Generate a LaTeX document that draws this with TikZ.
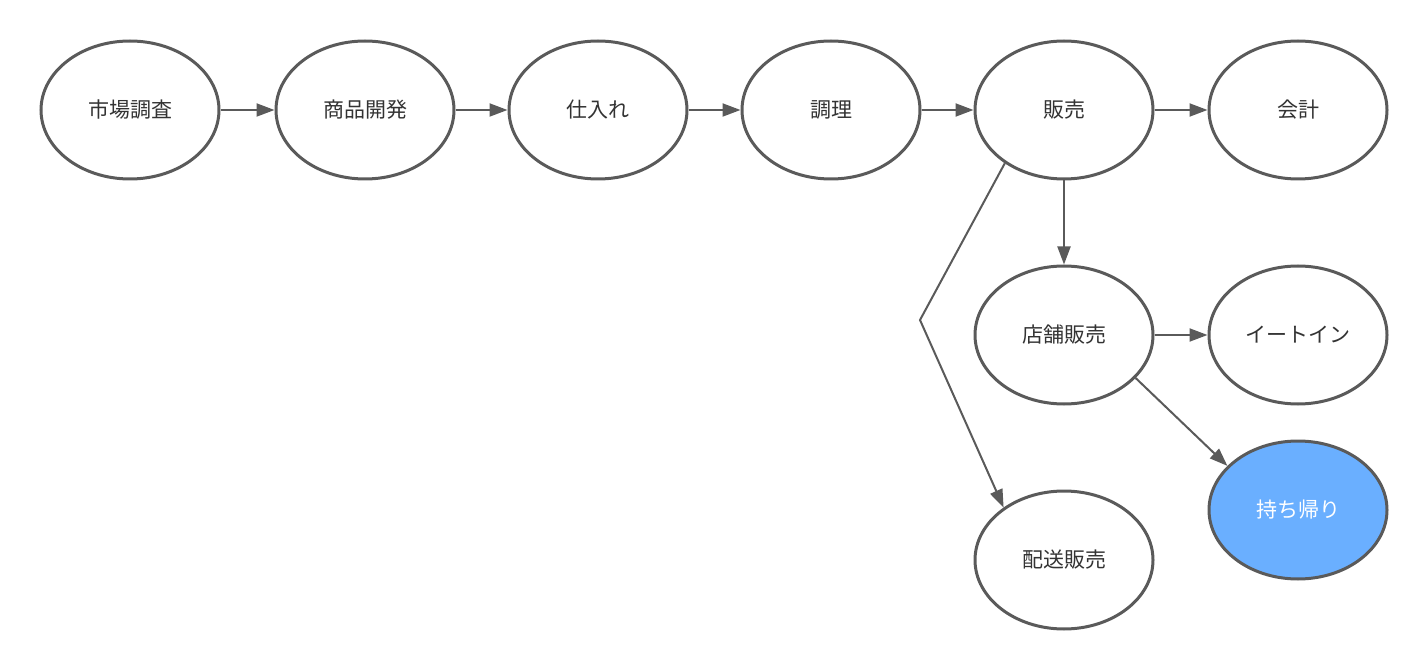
\documentclass[tikz,border=0pt]{standalone}
\usepackage{fontspec}
\setmainfont{Noto Sans CJK JP}
\usetikzlibrary{shapes.geometric,arrows.meta}
\definecolor{edgegray}{HTML}{5A5A5A}
\definecolor{textgray}{HTML}{333333}
\definecolor{hilite}{HTML}{6AAFFF}
\tikzset{
  stage/.style={ellipse, draw=edgegray, line width=3pt, fill=white,
    minimum width=178pt, minimum height=138pt, inner sep=0pt,
    font=\fontsize{21}{25}\selectfont, text=textgray},
  chosen/.style={stage, fill=hilite, text=white},
  flow/.style={draw=edgegray, line width=2pt,
    -{Triangle[length=18pt,width=13pt]}},
}
\begin{document}
\begin{tikzpicture}[x=1pt,y=-1pt]
  \useasboundingbox (0,0) rectangle (1428,671);
  % main process chain
  \node[stage] (survey) at (130,110) {市場調査};
  \node[stage] (dev)    at (365,110) {商品開発};
  \node[stage] (buy)    at (598,110) {仕入れ};
  \node[stage] (cook)   at (831,110) {調理};
  \node[stage] (sell)   at (1064,110) {販売};
  \node[stage] (acct)   at (1298,110) {会計};
  % sales branches
  \node[stage] (shop)   at (1064,335) {店舗販売};
  \node[stage] (eatin)  at (1298,335) {イートイン};
  \node[chosen] (take)  at (1298,510) {持ち帰り};
  \node[stage] (deliv)  at (1064,560) {配送販売};
  \coordinate (bend) at (920,320);

  \draw[flow] (survey) -- (dev);
  \draw[flow] (dev) -- (buy);
  \draw[flow] (buy) -- (cook);
  \draw[flow] (cook) -- (sell);
  \draw[flow] (sell) -- (acct);
  \draw[flow] (sell.south) -- (shop.north);
  \draw[flow] (shop) -- (eatin);
  \draw[flow] (shop.-31) -- (take.148);
  \draw[flow] (sell.222) -- (bend) -- (deliv.139);
\end{tikzpicture}
\end{document}
